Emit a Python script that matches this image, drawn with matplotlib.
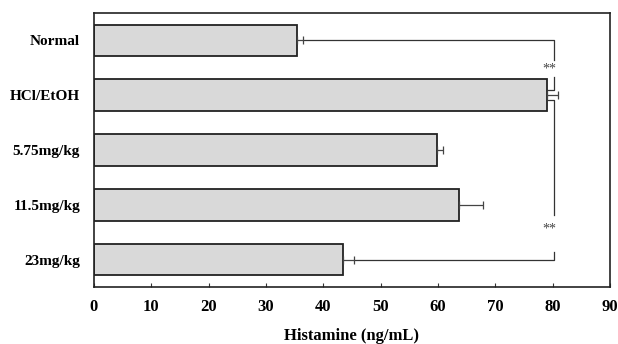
import matplotlib
matplotlib.use('Agg')
from matplotlib import pyplot as plt
import numpy as np

groups = ['Normal', 'HCl/EtOH', '5.75mg/kg', '11.5mg/kg', '23mg/kg']
means = [35.5, 79.0, 59.8, 63.7, 43.4]
errs = [1.0, 1.9, 1.0, 4.1, 1.9]
xticks = [0, 10, 20, 30, 40, 50, 60, 70, 80, 90]

plt.rcParams['font.family'] = ['Liberation Serif', 'DejaVu Serif']
plt.rcParams['font.weight'] = 'bold'

fig = plt.figure(figsize=(6.18, 3.44), dpi=100)
ax = fig.add_axes([0.152, 0.166, 0.835, 0.796])

y = np.arange(len(groups))
ax.barh(y, means, height=0.58, color='#d9d9d9', edgecolor='#222222', linewidth=1.3, zorder=2)
ax.errorbar(means, y, xerr=[np.zeros(len(errs)), errs], fmt='none', ecolor='#444444',
            elinewidth=0.9, capsize=3, capthick=0.9, zorder=3)

# significance brackets
bx = 80.2
lc = '#333333'
lw = 0.9
ax.plot([means[0] + errs[0], bx, bx], [0, 0, 0.36], color=lc, lw=lw)
ax.plot([bx, bx, means[1]], [0.67, 0.91, 0.91], color=lc, lw=lw)
ax.plot([means[1], bx, bx], [1.08, 1.08, 3.19], color=lc, lw=lw)
ax.plot([bx, bx, means[4] + errs[4]], [3.86, 4.0, 4.0], color=lc, lw=lw)
ax.text(bx - 0.8, 0.53, '**', ha='center', va='center', fontsize=10, fontweight='normal', color='#444444')
ax.text(bx - 0.8, 3.45, '**', ha='center', va='center', fontsize=10, fontweight='normal', color='#444444')

ax.set_xlim(0, 90)
ax.set_ylim(4.5, -0.5)
ax.set_xticks(xticks)
ax.set_yticks(y)
ax.set_yticklabels(groups, fontsize=11, fontweight='bold')
for lab in ax.get_xticklabels():
    lab.set_fontsize(12)
    lab.set_fontweight('bold')
ax.tick_params(axis='x', direction='in', length=3, pad=9, colors='#333333', labelcolor='black')
ax.tick_params(axis='y', direction='in', length=3, pad=10, colors='#333333', labelcolor='black')
ax.tick_params(top=False, right=False)
for s in ax.spines.values():
    s.set_color('#222222')
    s.set_linewidth(1.2)

ax.set_xlabel('Histamine (ng/mL)', fontsize=12, fontweight='bold', labelpad=9)

plt.savefig('out.png', dpi=100)
